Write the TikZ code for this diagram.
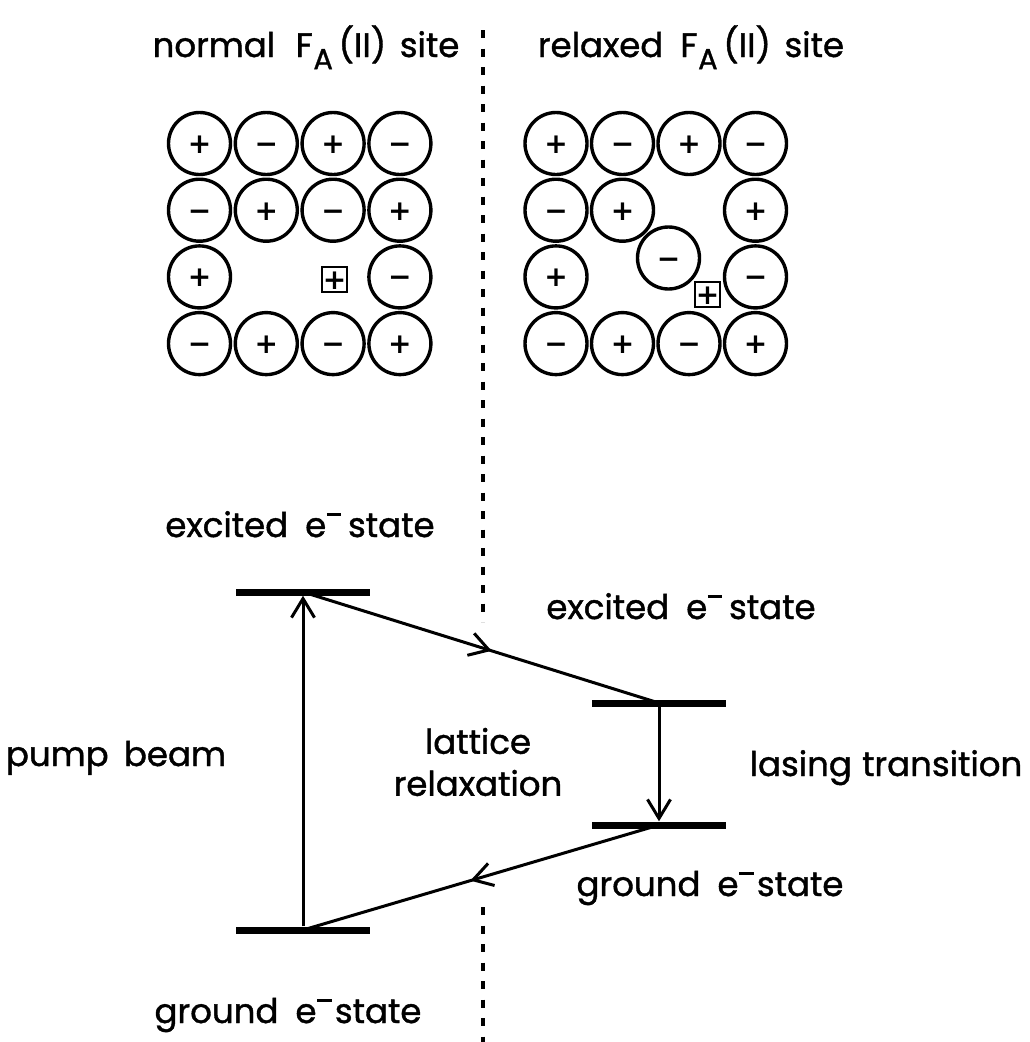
\documentclass[tikz,border=0pt]{standalone}
\usepackage{fontspec}
\setmainfont{Poppins}[FakeBold=1.2]
\newfontfamily\signfont{DejaVu Sans}
\usetikzlibrary{arrows.meta,decorations.markings}

% electron symbol: e with a bar at the upper right
\newcommand\elec{e\kern0.02em\raisebox{0.62em}{\rule{0.42em}{0.09em}}}
% F with subscript A
\newcommand\FAsub{F\kern0.02em\raisebox{-0.36em}{\fontsize{29}{29}\selectfont A}}
\newcommand\sgnp{+}
\newcommand\sgnm{\char"2212}

\tikzset{
  lbl/.style={font=\fontsize{34}{42}\selectfont, anchor=base, inner sep=0pt},
  ion/.style={circle, draw, line width=3.4pt, minimum size=62pt, inner sep=0pt,
    font=\signfont\bfseries\fontsize{28}{28}\selectfont, text height=20pt, text depth=0pt},
  vacancy/.style={rectangle, draw, line width=2.6pt, minimum size=25pt, inner sep=0pt,
    font=\signfont\bfseries\fontsize{28}{28}\selectfont, text height=20pt, text depth=0pt},
  level/.style={rectangle, fill=black, draw=none, minimum width=134pt, minimum height=7pt, inner sep=0pt},
  conn/.style={line width=3pt},
  tipV/.tip={Straight Barb[length=19pt,width=23pt]},
  midarrow/.style={postaction={decorate}, decoration={markings,
    mark=at position 0.53 with {\arrow{tipV}}}},
  divider/.style={line width=3.2pt, dash pattern=on 8pt off 10.5pt},
}

\begin{document}
\begin{tikzpicture}[x=1pt, y=-1pt]
\useasboundingbox (0,0) rectangle (1030,1042);

% titles
\node[lbl] (t1) at (306,57) {normal\hspace{0.6em}\FAsub\,(II)\hspace{0.4em}site};
\node[lbl] (t2) at (691,57) {relaxed\hspace{0.5em}\FAsub\,(II)\hspace{0.4em}site};

% dividing line
\coordinate (d1) at (483,30);
\coordinate (d2) at (483,622);
\coordinate (d3) at (483,907);
\coordinate (d4) at (483,1042);
\draw[divider] (d1) -- (d2);
\draw[divider] (d3) -- (d4);

% normal site lattice
\foreach \c/\r/\s in {1/1/p,2/1/m,3/1/p,4/1/m,
                      1/2/m,2/2/p,3/2/m,4/2/p,
                      1/3/p,4/3/m,
                      1/4/m,2/4/p,3/4/m,4/4/p}
  \node[ion] (L\c\r) at ({199.5+66.8*(\c-1)},{143.5+66.7*(\r-1)}) {\csname sgn\s\endcsname};
\node[vacancy] (Lv) at (334.5,279.5) {+};

% relaxed site lattice
\foreach \c/\r/\s in {1/1/p,2/1/m,3/1/p,4/1/m,
                      1/2/m,2/2/p,4/2/p,
                      1/3/p,4/3/m,
                      1/4/m,2/4/p,3/4/m,4/4/p}
  \node[ion] (R\c\r) at ({556+66.5*(\c-1)},{143.5+66.7*(\r-1)}) {\csname sgn\s\endcsname};
\node[ion] (Rmoved) at (668.5,258) {\sgnm};
\node[vacancy] (Rv) at (707.5,294.5) {+};

% energy levels
\node[level] (ex1) at (303,592) {};
\node[level] (gr1) at (303,930) {};
\node[level] (ex2) at (659,703) {};
\node[level] (gr2) at (659,825) {};

% transitions
\draw[conn, -tipV] (gr1.north) -- (ex1.south);
\draw[conn, midarrow] (ex1.center) -- (ex2.center);
\draw[conn, -tipV] (ex2.south) -- (gr2.north);
\draw[conn, midarrow] (gr2.center) -- (gr1.center);

% level and transition labels
\node[lbl] (lex1) at (300,537) {excited\hspace{0.5em}\elec\hspace{0.2em}state};
\node[lbl] (lex2) at (681,619) {excited\hspace{0.5em}\elec\hspace{0.2em}state};
\node[lbl] (lgr2) at (710,896) {ground\hspace{0.5em}\elec\hspace{0.1em}state};
\node[lbl] (lgr1) at (288,1023) {ground\hspace{0.5em}\elec\hspace{0.1em}state};
\node[lbl] (lpump) at (116,766) {pump\hspace{0.45em}beam};
\node[lbl, align=center, anchor=center] (lrel) at (478,762) {lattice\\relaxation};
\node[lbl] (llas) at (886,776) {lasing\hspace{0.3em}transition};
\end{tikzpicture}
\end{document}
